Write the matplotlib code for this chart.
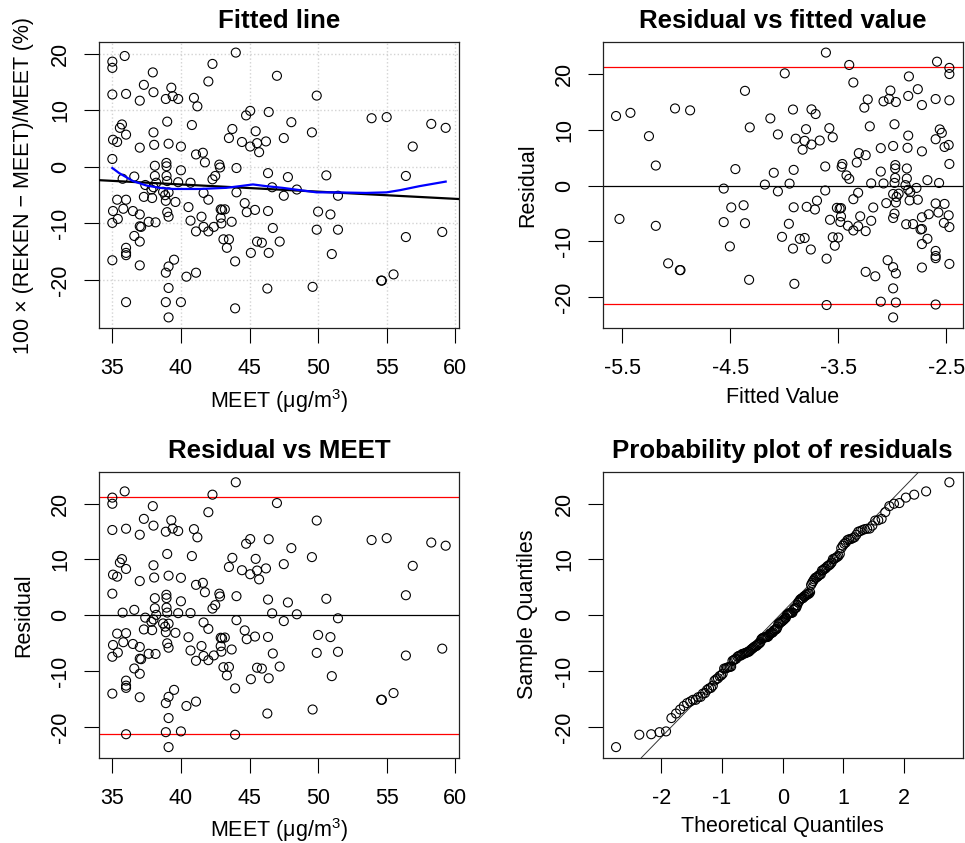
import matplotlib.pyplot as plt
import numpy as np
from statistics import NormalDist

plt.rcParams['font.family'] = ['Liberation Sans', 'DejaVu Sans']
plt.rcParams['mathtext.fontset'] = 'custom'
plt.rcParams['mathtext.rm'] = 'Liberation Sans'
plt.rcParams['mathtext.it'] = 'Liberation Sans:italic'
plt.rcParams['font.size'] = 15.5
plt.rcParams['axes.unicode_minus'] = False

# MEET concentration (ug/m3) and relative difference 100*(REKEN-MEET)/MEET (%)
meet = [35.0, 35.0, 35.0, 35.05, 35.0, 35.05, 35.0, 35.0, 35.35, 35.35,
        35.4, 35.7, 35.55, 35.75, 35.8, 35.9, 36.0, 36.0, 36.0, 36.0,
        36.0, 36.0, 36.0, 36.5, 36.6, 36.6, 37.0, 37.0, 37.0, 37.0,
        37.1, 37.0, 37.0, 37.3, 37.3, 37.4, 37.65, 37.9, 37.95, 38.0,
        38.0, 38.05, 38.1, 38.1, 38.0, 37.85, 38.15, 38.2, 38.94, 38.95,
        38.95, 38.9, 39.0, 39.1, 39.3, 39.4, 39.8, 40.0, 40.0, 38.7,
        38.85, 38.9, 39.0, 39.0, 39.1, 39.1, 39.6, 39.8, 38.9, 39.1,
        39.5, 39.1, 38.9, 39.1, 40.0, 40.4, 40.55, 40.7, 40.7, 40.8,
        40.95, 41.2, 41.1, 41.6, 41.75, 41.1, 41.5, 41.65, 41.65, 42.0,
        42.0, 42.0, 41.1, 42.3, 42.3, 42.5, 42.4, 42.8, 42.85, 42.9,
        43.0, 43.2, 42.9, 42.95, 43.1, 43.5, 43.35, 43.5, 43.75, 43.7,
        44.0, 44.05, 44.05, 43.95, 43.95, 44.45, 44.65, 44.75, 44.8, 45.05,
        45.05, 45.1, 45.45, 45.4, 45.55, 45.7, 45.55, 45.9, 46.2, 46.4,
        46.35, 46.35, 46.4, 46.3, 46.65, 46.7, 47.0, 47.2, 47.5, 47.5,
        47.8, 48.05, 48.45, 49.55, 49.6, 49.9, 49.9, 50.0, 50.6, 50.9,
        51.0, 51.45, 51.45, 53.9, 55.0, 54.6, 54.65, 55.5, 56.4, 56.4,
        56.9, 58.25, 59.3, 59.05]
pct = [18.6, 17.5, 12.8, 4.8, 1.4, -7.8, -9.9, -16.5, 4.4, -5.8,
       -9.2, 7.5, 6.9, -2.1, -7.4, 19.6, 12.9, 5.7, -5.8, -14.3,
       -15.2, -15.6, -23.9, -7.8, -1.7, -12.2, 11.7, 3.4, -8.4, -10.5,
       -10.6, -13.2, -17.4, 14.5, -5.3, -3.2, -9.7, -5.5, 16.7, 13.2,
       6.1, 3.9, 0.2, -1.6, -3.6, -4.0, -9.8, -2.8, 0.7, 0.1,
       -1.6, 12.0, 8.0, 4.1, 14.0, 12.5, 12.0, 3.6, -0.6, -4.4,
       -5.0, -6.0, -2.5, -8.0, -8.8, -4.5, -6.2, -2.7, -18.7, -17.6,
       -16.4, -21.4, -23.9, -26.6, -23.9, -19.4, -7.1, -2.8, -9.5, 7.4,
       12.2, 10.7, 2.2, 2.5, 0.8, -11.4, -8.8, -4.6, -10.6, -5.8,
       15.1, -11.4, -18.7, 18.2, -2.2, -1.6, -10.6, 0.4, -0.1, -7.5,
       -7.6, -7.5, -9.0, -10.0, -12.8, -12.8, -14.3, 5.1, 6.7, -9.7,
       20.2, -0.2, -4.5, -16.7, -25.0, 4.4, -6.4, 9.1, -8.0, 9.9,
       3.6, -15.2, 6.3, -7.6, 4.2, 2.6, -13.2, -13.4, 4.5, 9.7,
       -1.1, -7.8, -15.2, -21.5, -3.6, -10.8, 16.1, -13.2, 5.1, -5.1,
       -1.8, 7.9, -4.0, 6.1, -21.2, 12.6, -11.1, -7.9, -1.5, -8.4,
       -15.4, -5.1, -11.1, 8.6, 8.8, -20.1, -20.1, -19.0, -1.6, -12.4,
       3.6, 7.6, 6.9, -11.5]

# smoothed (lowess) curve
smooth_x = [35.0, 35.5, 36.5, 37.5, 38.45, 39.4, 41.4, 43.3, 44.3, 45.25,
            46.2, 47.4, 48.65, 49.9, 51.1, 53.5, 55.0, 56.0, 57.4, 59.3]
smooth_y = [-0.2, -1.1, -2.5, -3.3, -3.7, -3.9, -3.9, -3.7, -3.4, -3.1,
            -3.4, -3.7, -4.1, -4.5, -4.5, -4.6, -4.5, -4.1, -3.4, -2.6]

# regression line as drawn in the picture: value at MEET = 35 and slope
fit_at_35 = -2.47
fit_slope = -0.127
resid_limit = 21.2

meet = np.array(meet)
pct = np.array(pct)
fitted = fit_at_35 + fit_slope * (meet - 35)
resid = pct - fitted

n = len(resid)
nd = NormalDist()
theo = np.array([nd.inv_cdf((i - 0.5) / n) for i in range(1, n + 1)])
sample = np.sort(resid)
q1, q3 = np.quantile(resid, [0.25, 0.75])
t1, t3 = nd.inv_cdf(0.25), nd.inv_cdf(0.75)

W, H = 965, 843
fig = plt.figure(figsize=(W / 100, H / 100), dpi=100)


def make_ax(left, top):
    return fig.add_axes([left / W, 1 - (top + 286) / H, 360 / W, 286 / H])


def style(ax, title, xlabel, ylabel, xticks, yticks):
    ax.set_title(title, fontsize=18.6, fontweight='bold', pad=10)
    ax.set_xticks(xticks)
    ax.set_yticks(yticks)
    ax.tick_params(direction='out', length=10.5, width=0.8, pad=11, labelsize=15.5)
    ax.tick_params(axis='y', pad=9.5)
    for lab in ax.get_yticklabels():
        lab.set_rotation(90)
        lab.set_va('center')
    for sp in ax.spines.values():
        sp.set_linewidth(0.9)
        sp.set_color('#222222')
    ax.set_xlabel(xlabel, fontsize=15.5)
    ax.set_ylabel(ylabel, fontsize=15.5)
    ax.xaxis.set_label_coords(0.5, -0.205)
    ax.yaxis.set_label_coords(-0.18, 0.5)
    ax.margins(0.04)


pt = dict(s=42, facecolors='none', edgecolors='black', linewidths=0.8, zorder=3)
meet_label = 'MEET (μg/m$^3$)'

# panel 1: fitted line
ax1 = make_ax(99, 42)
ax1.scatter(meet, pct, **pt)
ax1.axline((35, fit_at_35), slope=fit_slope, color='black', lw=1.6, zorder=4)
ax1.plot(smooth_x, smooth_y, color='blue', lw=1.6, zorder=5)
style(ax1, 'Fitted line', meet_label, '100 × (REKEN − MEET)/MEET (%)',
      [35, 40, 45, 50, 55, 60], [-20, -10, 0, 10, 20])
ax1.grid(True, color='lightgray', linestyle=':', linewidth=1)
ax1.set_axisbelow(True)

# panel 2: residual vs fitted value
ax2 = make_ax(602.7, 42)
ax2.scatter(fitted, resid, **pt)
ax2.axhline(0, color='black', lw=0.9)
ax2.axhline(resid_limit, color='red', lw=0.9)
ax2.axhline(-resid_limit, color='red', lw=0.9)
style(ax2, 'Residual vs fitted value', 'Fitted Value', 'Residual',
      [-5.5, -4.5, -3.5, -2.5], [-20, -10, 0, 10, 20])

# panel 3: residual vs MEET
ax3 = make_ax(99, 471.7)
ax3.scatter(meet, resid, **pt)
ax3.axhline(0, color='black', lw=0.9)
ax3.axhline(resid_limit, color='red', lw=0.9)
ax3.axhline(-resid_limit, color='red', lw=0.9)
style(ax3, 'Residual vs MEET', meet_label, 'Residual',
      [35, 40, 45, 50, 55, 60], [-20, -10, 0, 10, 20])

# panel 4: normal probability plot
ax4 = make_ax(602.7, 471.7)
ax4.scatter(theo, sample, **pt)
ax4.axline((t1, q1), (t3, q3), color='#333333', lw=0.7)
style(ax4, 'Probability plot of residuals', 'Theoretical Quantiles',
      'Sample Quantiles', [-2, -1, 0, 1, 2], [-20, -10, 0, 10, 20])

fig.savefig('out.png', dpi=100)
